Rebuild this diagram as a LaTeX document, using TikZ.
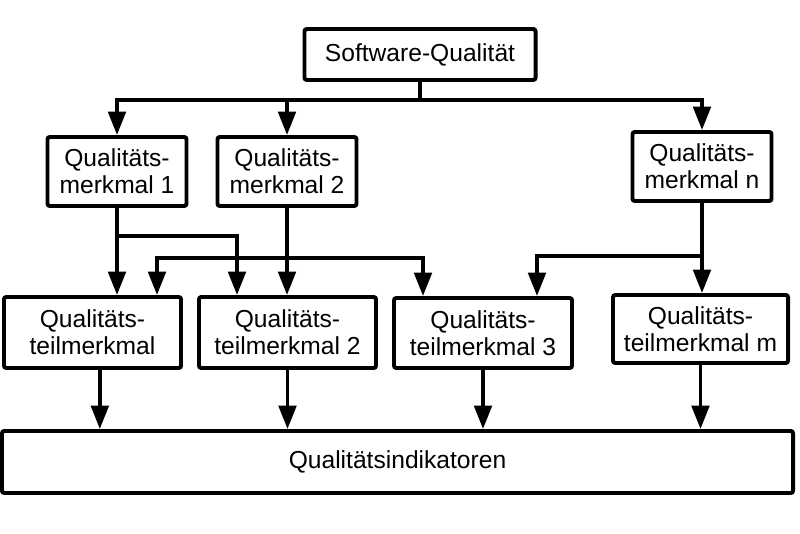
\documentclass[tikz,border=0pt]{standalone}
\usepackage{fontspec}
\setmainfont{Liberation Sans}
\usetikzlibrary{arrows.meta}
\tikzset{
  box/.style={draw, line width=3.4pt, rounded corners=2pt, align=center, inner sep=0pt, font=\fontsize{21}{23}\selectfont},
  conn/.style={line width=3pt},
  arr/.style={conn, -{Triangle[length=20pt,width=15pt]}},
  arrs/.style={conn, {Triangle[length=20pt,width=15pt]}-{Triangle[length=20pt,width=15pt]}}
}
\begin{document}
\begin{tikzpicture}[x=0.03cm, y=-0.03cm]
		%%%%% START %%%%%
		\useasboundingbox (0,0) rectangle (800,534);
		
		\node[box, minimum width=6.93cm, minimum height=1.53cm] (sq) at (420, 54.5) {Software-Qualit\"at};
		
		\node[box, minimum width=4.17cm, minimum height=2.07cm] (qm1) at (117, 171.5) {Qualit\"ats-\\merkmal 1};
		\node[box, minimum width=4.17cm, minimum height=2.07cm] (qm2) at (287, 171.5) {Qualit\"ats-\\merkmal 2};
		\node[box, minimum width=4.17cm, minimum height=2.07cm] (qmn) at (702, 166.5) {Qualit\"ats-\\merkmal n};
		
		\node[box, minimum width=5.31cm, minimum height=2.13cm] (tm1) at (92.5, 332.5) {Qualit\"ats-\\teilmerkmal};
		\node[box, minimum width=5.31cm, minimum height=2.13cm] (tm2) at (287.5, 332.5) {Qualit\"ats-\\teilmerkmal 2};
		\node[box, minimum width=5.34cm, minimum height=2.10cm] (tm3) at (483, 333) {Qualit\"ats-\\teilmerkmal 3};
		\node[box, minimum width=5.25cm, minimum height=2.04cm] (tmm) at (700.5, 329) {Qualit\"ats-\\teilmerkmal m};
		
		\node[box, minimum width=23.73cm, minimum height=1.86cm] (qi) at (397.5, 462) {Qualit\"atsindikatoren};
		
		\coordinate (j0) at (420, 100);
		\coordinate (j1) at (237, 236);
		\coordinate (j2) at (157, 258);
		\coordinate (j3) at (423, 258);
		\coordinate (j4) at (537, 256);
		
		\draw[conn] (sq.south) -- (j0);
		\draw[arr] (j0) -| (qm1.north);
		\draw[arr] (j0) -| (qmn.north);
		\draw[arr] (qm2.north |- j0) -- (qm2.north);
		
		\draw[arr] (qm1.south) -- (qm1.south |- tm1.north);
		\draw[arr] (qm1.south |- j1) -- (j1) -- (j1 |- tm2.north);
		\draw[arr] (qm2.south) -- (qm2.south |- tm2.north);
		\draw[arrs] (j2 |- tm1.north) -- (j2) -- (j3) -- (j3 |- tm3.north);
		\draw[arr] (qmn.south) -- (qmn.south |- tmm.north);
		\draw[arr] (qmn.south |- j4) -- (j4) -- (j4 |- tm3.north);
		
		\draw[arr] ([xshift=0.22cm]tm1.south) -- ([xshift=0.22cm]tm1.south |- qi.north);
		\draw[arr] (tm2.south) -- (tm2.south |- qi.north);
		\draw[arr] (tm3.south) -- (tm3.south |- qi.north);
		\draw[arr] (tmm.south) -- (tmm.south |- qi.north);
		
		%%%%% END %%%%%
\end{tikzpicture}
\end{document}
